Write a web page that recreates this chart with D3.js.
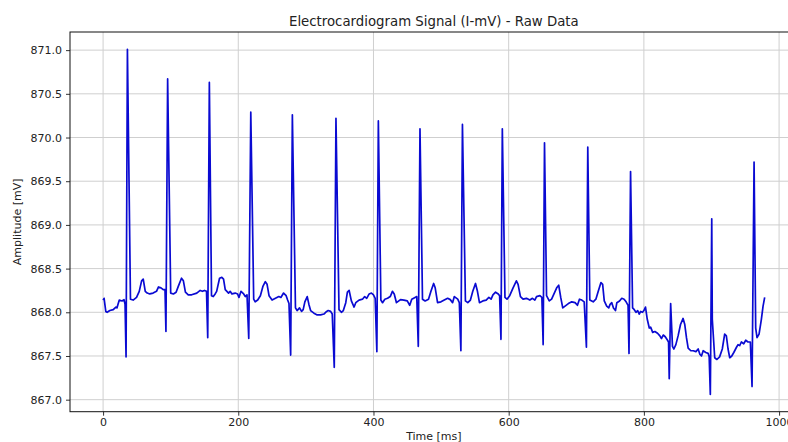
<!DOCTYPE html>
<html>
<head>
<meta charset="utf-8">
<script src="https://cdn.jsdelivr.net/npm/d3@7"></script>
<style>
  html, body { margin: 0; padding: 0; background: #fff; }
  svg { display: block; font-family: "DejaVu Sans", sans-serif; }
</style>
</head>
<body>
<svg id="chart" width="788" height="442"></svg>
<script>
// ---- Data ----
const title = "Electrocardiogram Signal (I-mV) - Raw Data";
const xLabel = "Time [ms]";
const yLabel = "Amplitude [mV]";
const xTicks = [0, 200, 400, 600, 800, 1000];
const yTicks = [867.0, 867.5, 868.0, 868.5, 869.0, 869.5, 870.0, 870.5, 871.0];

const time = [
  0, 1.5, 4, 6, 10, 15, 19, 20.5, 22, 24, 28, 31, 32.5, 34, 36, 40.5, 44.5, 49.5, 53.5, 57, 59.4, 62.4, 65.3, 69, 74, 79, 82, 85.6, 89, 91.6,
  93, 95.5, 100, 104, 108, 111.4, 116, 118.8, 121.8, 126, 131, 138.6, 143.6, 147, 150, 153,
  154.8, 157.2, 160.4, 163, 165.8, 168, 172.3, 175.7, 178.2, 180.7, 185.6, 188, 190.6, 195.5, 199, 201, 204, 208, 210.4, 212.9,
  215.5, 218.5, 222.8, 225, 228.7, 232.7, 236.6, 240, 242.6, 245.5, 250, 255, 260, 263, 267, 270.8, 273, 275,
  277.5, 280, 284.6, 287, 290.6, 293.6, 296, 298.5, 302, 304.5, 307, 311.9, 316.8, 321.8, 326.7, 330.7, 333, 336.6, 339,
  342, 344.5, 349, 352.5, 355.4, 359, 361.4, 364, 367.3, 371.3, 373.8, 378.7, 383.7, 387, 390, 393.6, 397, 400, 402.5,
  405, 407.2, 410.9, 413.4, 416.8, 420.8, 424.8, 428, 430.7, 434, 440, 445, 450, 453.6, 456.6, 461.5, 464,
  466.3, 468.8, 472.5, 476.4, 481.4, 485, 489, 491.3, 494.8, 499.8, 504.7, 509.7, 513.6, 517, 519.6, 524.6, 527,
  529.3, 531.6, 536, 539.5, 543.4, 546.9, 550.9, 553.8, 556.8, 561.8, 566.7, 570.7, 574, 576.7, 580.6, 584.6, 586.6,
  588.6, 590.6, 594.5, 597.5, 601.5, 606.5, 611.4, 613.9, 617.4, 621.3, 626.3, 631.3, 635.2, 638.7, 641.2, 646.2, 649.1,
  651, 653, 656, 660, 663.5, 667, 671, 674, 677, 680, 683.4, 688.3, 693.3, 698.2, 701.7, 704.7, 708.2, 711.7,
  715, 717, 720, 725, 729, 732.5, 736.5, 739, 741.4, 745, 748, 750, 752.5, 755, 758, 760, 764, 767.3, 770.7, 773.7, 776.6,
  778, 780.3, 783.3, 785.8, 788.3, 790.8, 793.2, 795.2, 798, 800, 802.4, 805, 808, 810, 813, 816.3, 820.2, 823.7, 826, 828.6, 831.6, 835, 836.5,
  837.5, 839.6, 842.3, 844.4, 847.3, 850.6, 854.2, 858, 860.5, 863, 865.5, 869.5, 873, 877, 880.3, 882.8, 885.2, 887.7, 891.6, 895, 896.6,
  898.3, 900.4, 901.2, 904.8, 908, 912, 916, 919.5, 922, 924.5, 927, 930, 933, 937, 939.3, 941.8, 944.2, 947.7, 950.7, 954, 957.5,
  960, 963, 965.4, 967.4, 970.4, 973.8, 976.3, 978.7
];
const amplitude = [
  868.14, 868.16, 868.01, 868.00, 868.02, 868.03, 868.06, 868.05, 868.09, 868.14, 868.13, 868.145, 868.09, 867.49, 871.01, 868.15, 868.14, 868.17, 868.24, 868.36, 868.38, 868.24, 868.22, 868.21, 868.22, 868.24, 868.29, 868.28, 868.26, 868.26,
  867.78, 870.67, 868.22, 868.21, 868.23, 868.30, 868.39, 868.36, 868.23, 868.20, 868.20, 868.22, 868.25, 868.24, 868.25, 868.24,
  867.71, 870.63, 868.19, 868.18, 868.21, 868.24, 868.39, 868.40, 868.38, 868.26, 868.22, 868.24, 868.21, 868.22, 868.21, 868.17, 868.24, 868.21, 868.18, 868.20,
  867.70, 870.29, 868.15, 868.12, 868.14, 868.19, 868.30, 868.35, 868.32, 868.19, 868.14, 868.16, 868.18, 868.17, 868.22, 868.19, 868.14, 868.10,
  867.51, 870.26, 868.05, 868.02, 868.05, 868.01, 868.03, 868.12, 868.18, 868.09, 868.02, 867.99, 867.97, 867.97, 867.98, 868.01, 868.02, 868.01, 867.98,
  867.37, 870.22, 868.03, 868.00, 868.02, 868.11, 868.23, 868.25, 868.13, 868.06, 868.11, 868.14, 868.15, 868.18, 868.16, 868.21, 868.22, 868.20, 868.16,
  867.55, 870.19, 868.14, 868.11, 868.15, 868.16, 868.18, 868.24, 868.21, 868.11, 868.145, 868.14, 868.13, 868.08, 868.15, 868.17, 868.18,
  867.61, 870.10, 868.15, 868.13, 868.15, 868.24, 868.33, 868.28, 868.11, 868.12, 868.14, 868.16, 868.145, 868.11, 868.18, 868.15, 868.11,
  867.56, 870.15, 868.13, 868.11, 868.14, 868.24, 868.33, 868.24, 868.11, 868.13, 868.14, 868.17, 868.15, 868.20, 868.23, 868.21, 868.19,
  867.69, 870.10, 868.17, 868.15, 868.19, 868.28, 868.36, 868.32, 868.18, 868.15, 868.16, 868.14, 868.16, 868.14, 868.18, 868.19, 868.17,
  867.63, 869.94, 868.19, 868.13, 868.15, 868.21, 868.28, 868.31, 868.17, 868.05, 868.07, 868.10, 868.12, 868.11, 868.08, 868.15, 868.14, 868.12,
  867.60, 869.89, 868.14, 868.12, 868.15, 868.24, 868.34, 868.32, 868.13, 868.07, 868.05, 868.09, 868.11, 868.05, 868.02, 868.11, 868.13, 868.16, 868.15, 868.12, 868.08,
  867.53, 869.61, 868.05, 868.03, 868.00, 868.02, 867.98, 868.01, 868.00, 868.02, 868.06, 867.92, 867.82, 867.83, 867.77, 867.78, 867.76, 867.73, 867.70, 867.74, 867.72, 867.68, 867.66,
  867.24, 868.10, 867.61, 867.58, 867.63, 867.73, 867.86, 867.93, 867.86, 867.71, 867.59, 867.56, 867.56, 867.55, 867.58, 867.52, 867.50, 867.56, 867.54, 867.53, 867.49,
  867.06, 869.07, 867.92, 867.48, 867.46, 867.49, 867.58, 867.75, 867.73, 867.58, 867.48, 867.50, 867.54, 867.60, 867.63, 867.62, 867.66, 867.64, 867.68, 867.66, 867.66,
  867.15, 869.72, 867.82, 867.71, 867.75, 867.92, 868.07, 868.17
];

// ---- Chart ----
const svg = d3.select("#chart");
const plotLeft = 70, plotTop = 32, plotBottom = 411.7;
const pxPerMs = 0.676;

const data = time.map((t, i) => ({ t, v: amplitude[i] }));

// matplotlib-like 5% margins
const tExt = d3.extent(time), vExt = d3.extent(amplitude);
const tPad = (tExt[1] - tExt[0]) * 0.05, vPad = (vExt[1] - vExt[0]) * 0.05;
const xDomain = [tExt[0] - tPad, tExt[1] + tPad];
const yDomain = [vExt[0] - vPad, vExt[1] + vPad];
const plotRight = plotLeft + (xDomain[1] - xDomain[0]) * pxPerMs;

const x = d3.scaleLinear().domain(xDomain).range([plotLeft, plotRight]);
const y = d3.scaleLinear().domain(yDomain).range([plotBottom, plotTop]);

// grid
const grid = svg.append("g");
grid.selectAll("line.gx").data(xTicks).enter().append("line")
  .attr("x1", d => x(d)).attr("x2", d => x(d))
  .attr("y1", plotTop).attr("y2", plotBottom)
  .attr("stroke", "#cfcfcf").attr("stroke-width", 1);
grid.selectAll("line.gy").data(yTicks).enter().append("line")
  .attr("x1", plotLeft).attr("x2", plotRight)
  .attr("y1", d => y(d)).attr("y2", d => y(d))
  .attr("stroke", "#cfcfcf").attr("stroke-width", 1);

// line
const line = d3.line().x(d => x(d.t)).y(d => y(d.v));
svg.append("path").datum(data)
  .attr("d", line)
  .attr("fill", "none")
  .attr("stroke", "#0a0ad2")
  .attr("stroke-width", 1.7)
  .attr("stroke-linejoin", "round");

// axes
const xAxis = d3.axisBottom(x).tickValues(xTicks).tickFormat(d3.format("d")).tickSize(4).tickPadding(3);
const yAxis = d3.axisLeft(y).tickValues(yTicks).tickFormat(d3.format(".1f")).tickSize(4).tickPadding(4);

const gx = svg.append("g").attr("transform", `translate(0,${plotBottom})`).call(xAxis);
const gy = svg.append("g").attr("transform", `translate(${plotLeft},0)`).call(yAxis);
[gx, gy].forEach(g => {
  g.select(".domain").remove();
  g.selectAll(".tick line").attr("stroke", "#333");
  g.selectAll(".tick text").attr("fill", "#222").style("font-size", "11px")
    .style("font-family", "'DejaVu Sans', sans-serif");
});

// spines
svg.append("rect")
  .attr("x", plotLeft).attr("y", plotTop)
  .attr("width", plotRight - plotLeft).attr("height", plotBottom - plotTop)
  .attr("fill", "none").attr("stroke", "#111").attr("stroke-width", 1);

// labels
const cx = (plotLeft + plotRight) / 2;
svg.append("text").attr("x", cx).attr("y", 25.5)
  .attr("text-anchor", "middle").attr("fill", "#222")
  .style("font-size", "13.3px").text(title);
svg.append("text").attr("x", cx).attr("y", 440)
  .attr("text-anchor", "middle").attr("fill", "#222")
  .style("font-size", "11px").text(xLabel);
svg.append("text")
  .attr("transform", `translate(21,${(plotTop + plotBottom) / 2}) rotate(-90)`)
  .attr("text-anchor", "middle").attr("fill", "#222")
  .style("font-size", "11px").text(yLabel);
</script>
</body>
</html>
